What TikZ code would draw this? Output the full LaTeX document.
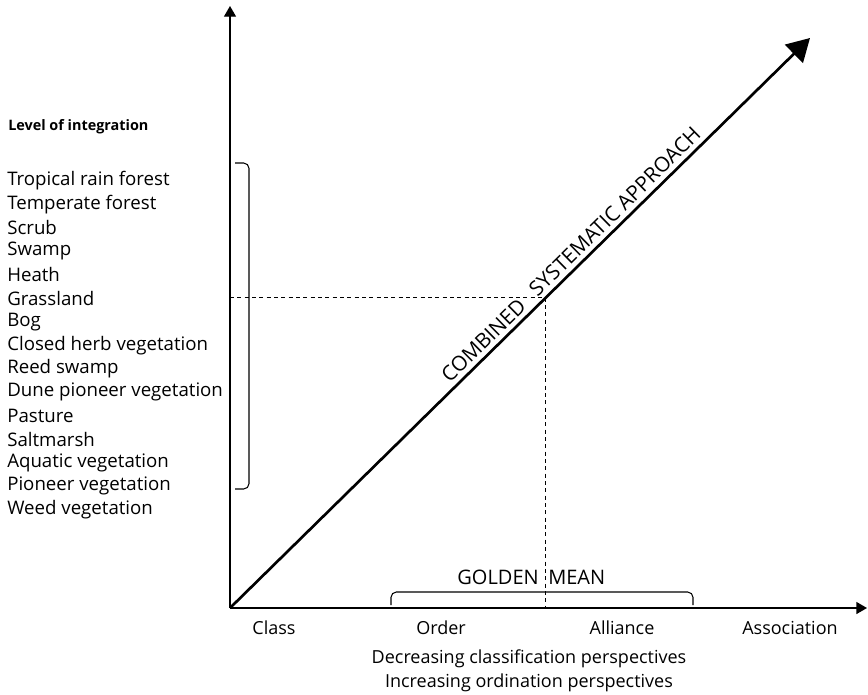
\documentclass[tikz,border=0pt]{standalone}
\usepackage{fontspec}
\setmainfont{Open Sans}
\usetikzlibrary{arrows.meta,positioning,calc}

\begin{document}
\begin{tikzpicture}[
    x=0.75pt, y=-0.75pt,
    node distance=17.6pt,
    every node/.style={inner sep=0pt, font=\fontsize{13.5}{16}\selectfont}
]
\useasboundingbox (0,0) rectangle (868,694);

% Define styles
\tikzstyle{axis} = [draw, line width=1pt, -{Triangle[length=8pt,width=9pt]}]
\tikzstyle{approach} = [draw, line width=2pt, -{Triangle[length=17pt,width=19pt]}]
\tikzstyle{guide} = [draw, line width=0.7pt, dash pattern=on 3pt off 2.5pt]
\tikzstyle{bracket} = [draw, line width=0.8pt, rounded corners=4pt]
\tikzstyle{item} = [anchor=west, font=\fontsize{14}{16}\selectfont]
\tikzstyle{rank} = [anchor=center]
\tikzstyle{caps} = [font=\fontsize{15}{17}\selectfont]
\tikzstyle{sloped label} = [sloped, yshift=4pt, font=\fontsize{15.5}{17}\selectfont]

% Axes
\coordinate (o) at (230,608);
\coordinate (ytip) at (230,6);
\coordinate (xtip) at (867,608);
\coordinate (dtip) at (810,38);
\coordinate (gm) at ($(o)!0.544!(dtip)$);

\path [axis] (o) -- (ytip);
\path [axis] (o) -- (xtip);
\path [approach] (o) -- (dtip);

% Diagonal label
\path (o) -- node [sloped label, anchor=south east, pos=0.52] (comb) {COMBINED}
    node [sloped label, anchor=south west, pos=0.537] (csa) {SYSTEMATIC APPROACH} (dtip);

% Golden mean
\path [guide] (gm -| o) -- (gm) -- (gm |- o);

% Level of integration
\node [anchor=west, font=\bfseries\fontsize{10.8}{13}\selectfont] (title) at (8,127) {Level of integration};
\node [item] (v1) at (7,181) {Tropical rain forest};
\node [below=of v1.west, item] (v2) {Temperate forest};
\node [below=of v2.west, item] (v3) {Scrub};
\node [below=of v3.west, item] (v4) {Swamp};
\node [below=of v4.west, item] (v5) {Heath};
\node [below=of v5.west, item] (v6) {Grassland};
\node [below=of v6.west, item] (v7) {Bog};
\node [below=of v7.west, item] (v8) {Closed herb vegetation};
\node [below=of v8.west, item] (v9) {Reed swamp};
\node [below=of v9.west, item] (v10) {Dune pioneer vegetation};
\node [below=of v10.west, item] (v11) {Pasture};
\node [below=of v11.west, item] (v12) {Saltmarsh};
\node [below=of v12.west, item] (v13) {Aquatic vegetation};
\node [below=of v13.west, item] (v14) {Pioneer vegetation};
\node [below=of v14.west, item] (v15) {Weed vegetation};

% Brackets
\path [bracket] (235,163) -- (249,163) -- (249,489) -- (235,489);
\path [bracket] (391,605) -- (391,592) -- (693,592) -- (693,605);

\node [caps, anchor=east] (golden) at (539,577) {GOLDEN};
\node [caps, anchor=west] (mean) at (548,577) {MEAN};

% Ranks
\node [rank] (class) at (274,628) {Class};
\node [rank] (order) at (441,628) {Order};
\node [rank] (alliance) at (622,628) {Alliance};
\node [rank] (association) at (790,628) {Association};

\node [rank] (decr) at (529,659) {Decreasing classification perspectives};
\node [rank, below=of decr.center, anchor=center] (incr) {Increasing ordination perspectives};

\end{tikzpicture}
\end{document}
